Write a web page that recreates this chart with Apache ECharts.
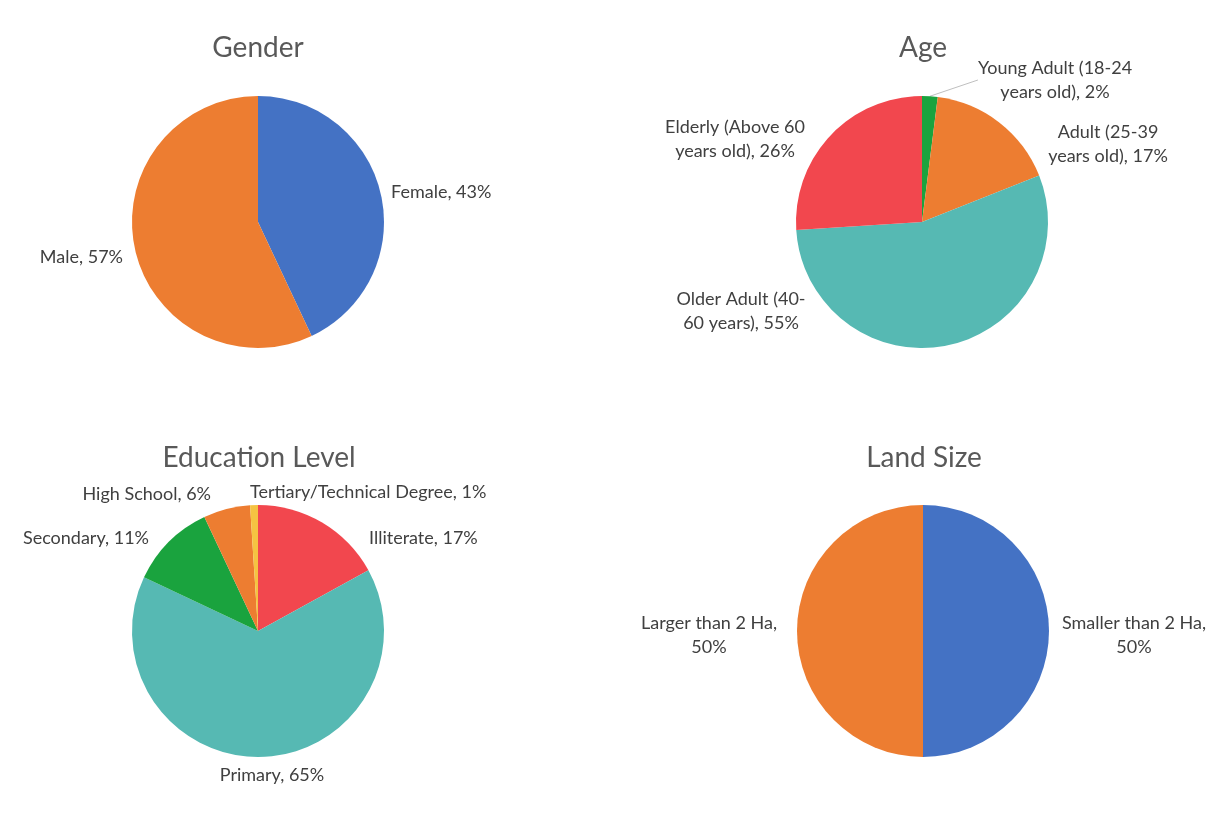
<!DOCTYPE html>
<html>
	<head>
		<meta charset="utf-8">
		<title>Respondent profile</title>
		<script src="https://cdn.jsdelivr.net/npm/echarts@6/dist/echarts.min.js"></script>
	</head>
	<body style="margin:0;background:#fff;">
		<div id="main" style="width:1225px;height:815px;"></div>
		<script type="text/javascript">
			// data (percent)
			var genderNames = ['Female', 'Male'];
			var genderValues = [43, 57];
			var ageNames = ['Young Adult (18-24\nyears old)', 'Adult (25-39\nyears old)', 'Older Adult (40-\n60 years)', 'Elderly (Above 60\nyears old)'];
			var ageValues = [2, 17, 55, 26];
			var eduNames = ['Illiterate', 'Primary', 'Secondary', 'High School', 'Tertiary/Technical Degree'];
			var eduValues = [17, 65, 11, 6, 1];
			var landNames = ['Smaller than 2 Ha,\n', 'Larger than 2 Ha,\n'];
			var landValues = [50, 50];

			var blue = '#4472C4', orange = '#ED7D31', teal = '#56B9B3', red = '#F2474E', green = '#1AA33E', yellow = '#F5C342';
			var font = 'Lato';

			// where each label sits (x, y, align) - like the excel chart
			var genderLabelPos = [[391, 192, 'left'], [123, 257, 'right']];
			var ageLabelPos = [[1055, 80, 'center'], [1108, 144, 'center'], [741, 311, 'center'], [735, 139, 'center']];
			var eduLabelPos = [[369, 538, 'left'], [272, 775, 'center'], [149, 538, 'right'], [211, 494, 'right'], [250, 492, 'left']];
			var landLabelPos = [[1134, 635, 'center'], [709, 635, 'center']];

			function toData(names, values, colors) {
				return names.map(function (n, i) {
					return { name: n, value: values[i], itemStyle: { color: colors[i] } };
				});
			}

			function layoutFrom(pos) {
				return function (params) {
					var p = pos[params.dataIndex];
					return { x: p[0], y: p[1], align: p[2], verticalAlign: 'middle' };
				};
			}

			function pie(center, names, values, colors, pos, sep) {
				return {
					type: 'pie',
					center: center,
					radius: 126,
					startAngle: 90,
					clockwise: true,
					animation: false,
					silent: true,
					itemStyle: { borderWidth: 0 },
					label: {
						show: true,
						position: 'inside',
						color: '#404040',
						fontFamily: font,
						fontSize: 18,
						lineHeight: 24,
						align: 'center',
						formatter: function (p) {
							return p.name + sep + p.value + '%';
						}
					},
					labelLine: { show: false },
					labelLayout: layoutFrom(pos),
					data: toData(names, values, colors)
				};
			}

			var myChart = echarts.init(document.getElementById('main'));

			var ageSeries = pie([922, 222], ageNames, ageValues, [green, orange, teal, red], ageLabelPos, ', ');
			// only the tiny slice gets a leader line
			ageSeries.data[0].label = { position: 'outside' };
			ageSeries.data[0].labelLine = { show: true, length: 8, length2: 0, lineStyle: { color: '#BFBFBF', width: 1 } };

			var titleStyle = { color: '#595959', fontFamily: font, fontSize: 28, fontWeight: 'normal' };

			var option = {
				backgroundColor: '#ffffff',
				title: [
					{ text: 'Gender', left: 253, top: 29, textAlign: 'center', textStyle: titleStyle },
					{ text: 'Age', left: 918, top: 29, textAlign: 'center', textStyle: titleStyle },
					{ text: 'Education Level', left: 254, top: 439, textAlign: 'center', textStyle: titleStyle },
					{ text: 'Land Size', left: 919, top: 439, textAlign: 'center', textStyle: titleStyle }
				],
				series: [
					pie([258, 222], genderNames, genderValues, [blue, orange], genderLabelPos, ', '),
					ageSeries,
					pie([258, 631], eduNames, eduValues, [red, teal, green, orange, yellow], eduLabelPos, ', '),
					pie([923, 631], landNames, landValues, [blue, orange], landLabelPos, '')
				]
			};

			myChart.setOption(option);
		</script>
	</body>
</html>
